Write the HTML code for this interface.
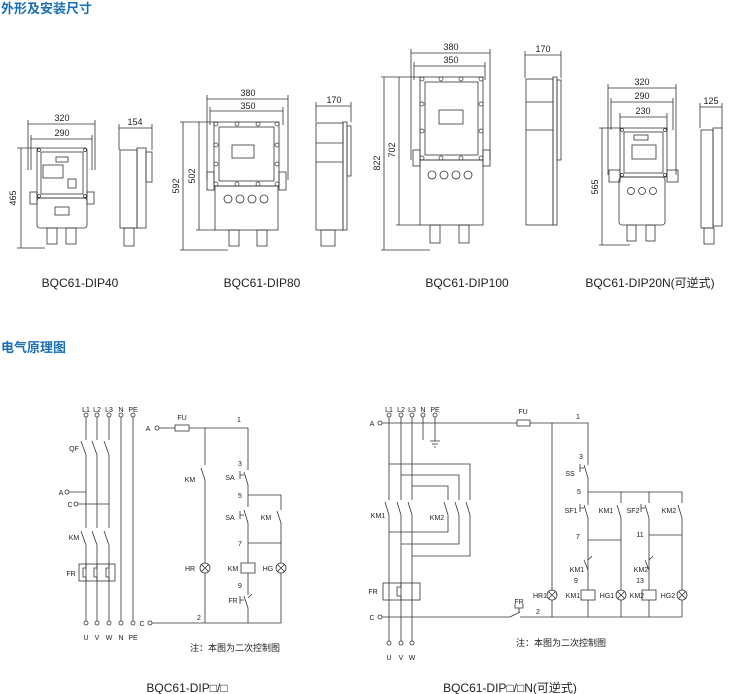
<!DOCTYPE html>
<html><head><meta charset="utf-8"><style>
body{margin:0;background:#fff;width:730px;height:694px;overflow:hidden}
svg{display:block}
text{font-family:"Liberation Sans","Noto Sans CJK SC",sans-serif;fill:#222}
.h{font-size:13px;font-weight:bold;fill:#1a6fb5}
.s{font-size:7px}
.d{font-size:9px}
.lb{font-size:12px}
</style></head><body>
<svg width="730" height="694" viewBox="0 0 730 694" xmlns="http://www.w3.org/2000/svg">
<text x="1" y="13" class="h">外形及安装尺寸</text>
<text x="1" y="352" class="h">电气原理图</text>
<g stroke="#333" stroke-width="0.8" fill="none">
<!-- DIP40 -->
<line x1="28" y1="124" x2="95" y2="124"/><line x1="31" y1="139" x2="92" y2="139"/>
<line x1="28" y1="120" x2="28" y2="170"/><line x1="95" y1="120" x2="95" y2="170"/>
<line x1="31" y1="135" x2="31" y2="170"/><line x1="92" y1="135" x2="92" y2="170"/>
<line x1="21" y1="148" x2="21" y2="248"/><line x1="17" y1="148" x2="38" y2="148"/><line x1="17" y1="248" x2="45" y2="248"/>
<rect x="37" y="148" width="50" height="50" rx="2"/><rect x="41" y="152" width="42" height="42"/>
<rect x="37" y="198" width="50" height="30" rx="3"/><rect x="55" y="207" width="14" height="8"/>
<rect x="30" y="192" width="7" height="12"/><rect x="87" y="192" width="7" height="12"/>
<rect x="56" y="157" width="12" height="5"/><rect x="43" y="165" width="20" height="13"/><rect x="68" y="179" width="8" height="9"/>
<rect x="47" y="228" width="10" height="16"/><rect x="66" y="228" width="10" height="16"/>
<line x1="119" y1="128" x2="152" y2="128"/><line x1="119" y1="124" x2="119" y2="150"/><line x1="152" y1="124" x2="152" y2="150"/>
<rect x="120" y="150" width="17" height="78"/><rect x="137" y="148" width="9" height="80"/><rect x="146" y="152" width="6" height="30"/>
<rect x="124" y="228" width="10" height="18"/>
<!-- DIP80 -->
<line x1="207" y1="99" x2="288" y2="99"/><line x1="210" y1="111" x2="283" y2="111"/>
<line x1="207" y1="95" x2="207" y2="180"/><line x1="288" y1="95" x2="288" y2="180"/>
<line x1="210" y1="107" x2="210" y2="125"/><line x1="283" y1="107" x2="283" y2="125"/>
<line x1="183" y1="122" x2="183" y2="250"/><line x1="199" y1="122" x2="199" y2="230"/>
<line x1="180" y1="122" x2="214" y2="122"/><line x1="180" y1="250" x2="228" y2="250"/><line x1="196" y1="230" x2="215" y2="230"/>
<rect x="214" y="122" width="65" height="64"/><rect x="219" y="127" width="55" height="54"/>
<rect x="232" y="145" width="22" height="13"/>
<rect x="207" y="172" width="7" height="18"/><rect x="279" y="172" width="7" height="18"/>
<rect x="215" y="186" width="63" height="44"/>
<circle cx="228" cy="199" r="4"/><circle cx="240" cy="199" r="4"/><circle cx="252" cy="199" r="4"/><circle cx="264" cy="199" r="4"/>
<rect x="229" y="230" width="10" height="16"/><rect x="257" y="230" width="10" height="16"/>
<line x1="316" y1="106" x2="351" y2="106"/><line x1="316" y1="102" x2="316" y2="122"/><line x1="351" y1="102" x2="351" y2="122"/>
<rect x="316" y="123" width="27" height="107"/><line x1="316" y1="143" x2="343" y2="143"/><line x1="316" y1="162" x2="343" y2="162"/>
<rect x="343" y="122" width="4" height="108"/><rect x="347" y="126" width="4" height="50"/>
<rect x="321" y="230" width="14" height="16"/>
<!-- DIP100 -->
<line x1="411" y1="53" x2="490" y2="53"/><line x1="414" y1="66" x2="485" y2="66"/>
<line x1="411" y1="49" x2="411" y2="160"/><line x1="490" y1="49" x2="490" y2="160"/>
<line x1="414" y1="62" x2="414" y2="80"/><line x1="485" y1="62" x2="485" y2="80"/>
<line x1="384" y1="77" x2="384" y2="250"/><line x1="399" y1="77" x2="399" y2="225"/>
<line x1="381" y1="77" x2="420" y2="77"/><line x1="381" y1="250" x2="430" y2="250"/><line x1="396" y1="225" x2="420" y2="225"/>
<rect x="420" y="77" width="63" height="83"/><rect x="425" y="82" width="53" height="73"/>
<rect x="439" y="110" width="24" height="14"/>
<rect x="413" y="150" width="7" height="16"/><rect x="483" y="150" width="7" height="16"/>
<rect x="420" y="160" width="63" height="65"/>
<circle cx="432" cy="175" r="4"/><circle cx="444" cy="175" r="4"/><circle cx="456" cy="175" r="4"/><circle cx="468" cy="175" r="4"/>
<rect x="430" y="225" width="10" height="18"/><rect x="459" y="225" width="10" height="18"/>
<line x1="525" y1="55" x2="561" y2="55"/><line x1="525" y1="51" x2="525" y2="78"/><line x1="561" y1="51" x2="561" y2="78"/>
<rect x="526" y="79" width="27" height="146"/><line x1="526" y1="102" x2="553" y2="102"/><line x1="526" y1="130" x2="553" y2="130"/>
<rect x="553" y="77" width="4" height="148"/><rect x="557" y="80" width="4" height="80"/>
<!-- DIP20N -->
<line x1="608" y1="88" x2="676" y2="88"/><line x1="611" y1="102" x2="673" y2="102"/><line x1="620" y1="117" x2="667" y2="117"/>
<line x1="608" y1="84" x2="608" y2="175"/><line x1="676" y1="84" x2="676" y2="175"/>
<line x1="611" y1="98" x2="611" y2="130"/><line x1="673" y1="98" x2="673" y2="130"/>
<line x1="620" y1="113" x2="620" y2="130"/><line x1="667" y1="113" x2="667" y2="130"/>
<line x1="602" y1="128" x2="602" y2="245"/><line x1="599" y1="128" x2="620" y2="128"/><line x1="599" y1="245" x2="630" y2="245"/>
<rect x="620" y="128" width="47" height="49"/><rect x="624" y="132" width="39" height="41"/>
<rect x="634" y="135" width="14" height="5"/><rect x="632" y="145" width="24" height="14"/>
<rect x="609" y="170" width="11" height="12"/><rect x="667" y="170" width="11" height="12"/>
<rect x="619" y="177" width="46" height="48" rx="3"/>
<circle cx="631" cy="191" r="3.5"/><circle cx="642" cy="191" r="3.5"/><circle cx="653" cy="191" r="3.5"/>
<rect x="627" y="225" width="9" height="16"/><rect x="646" y="225" width="9" height="16"/>
<line x1="700" y1="107" x2="722" y2="107"/><line x1="700" y1="103" x2="700" y2="128"/><line x1="722" y1="103" x2="722" y2="128"/>
<rect x="701" y="130" width="12" height="98"/><rect x="713" y="128" width="9" height="98"/>
<rect x="704" y="228" width="10" height="16"/>
</g>
<g stroke="#333" stroke-width="0.7" fill="#fff">
<circle cx="216" cy="124" r="2"/><circle cx="237" cy="124" r="2"/><circle cx="258" cy="124" r="2"/><circle cx="277" cy="124" r="2"/>
<circle cx="216" cy="184" r="2"/><circle cx="237" cy="184" r="2"/><circle cx="258" cy="184" r="2"/><circle cx="277" cy="184" r="2"/>
<circle cx="216" cy="145" r="2"/><circle cx="277" cy="145" r="2"/><circle cx="216" cy="164" r="2"/><circle cx="277" cy="164" r="2"/>
<circle cx="422" cy="79" r="2"/><circle cx="441" cy="79" r="2"/><circle cx="461" cy="79" r="2"/><circle cx="481" cy="79" r="2"/>
<circle cx="422" cy="158" r="2"/><circle cx="441" cy="158" r="2"/><circle cx="461" cy="158" r="2"/><circle cx="481" cy="158" r="2"/>
<circle cx="422" cy="104" r="2"/><circle cx="481" cy="104" r="2"/><circle cx="422" cy="131" r="2"/><circle cx="481" cy="131" r="2"/>
<circle cx="39" cy="150" r="1.5"/><circle cx="85" cy="150" r="1.5"/><circle cx="39" cy="196" r="1.5"/><circle cx="85" cy="196" r="1.5"/>
<circle cx="622" cy="130" r="1.5"/><circle cx="665" cy="130" r="1.5"/><circle cx="622" cy="175" r="1.5"/><circle cx="665" cy="175" r="1.5"/>
</g>
<g class="d" text-anchor="middle">
<text x="62" y="121">320</text><text x="62" y="136">290</text><text x="135" y="125">154</text>
<text x="248" y="96">380</text><text x="248" y="109">350</text><text x="334" y="103">170</text>
<text x="451" y="50">380</text><text x="451" y="63">350</text><text x="543" y="52">170</text>
<text x="642" y="85">320</text><text x="642" y="99">290</text><text x="643" y="114">230</text><text x="711" y="104">125</text>
<text transform="translate(16,198) rotate(-90)">465</text>
<text transform="translate(179,186) rotate(-90)">592</text><text transform="translate(195,176) rotate(-90)">502</text>
<text transform="translate(380,163) rotate(-90)">822</text><text transform="translate(395,150) rotate(-90)">702</text>
<text transform="translate(598,187) rotate(-90)">565</text>
</g>
<g class="lb" text-anchor="middle">
<text x="80" y="287">BQC61-DIP40</text><text x="262" y="287">BQC61-DIP80</text>
<text x="467" y="287">BQC61-DIP100</text><text x="650" y="287">BQC61-DIP20N(可逆式)</text>
<text x="187" y="692">BQC61-DIP□/□</text><text x="510" y="692">BQC61-DIP□/□N(可逆式)</text>
</g>
<!-- Schematic 1 -->
<g stroke="#333" stroke-width="0.8" fill="none">
<circle cx="86" cy="415" r="2"/><circle cx="97" cy="415" r="2"/><circle cx="109" cy="415" r="2"/><circle cx="121" cy="415" r="2"/><circle cx="133" cy="415" r="2"/>
<circle cx="86" cy="623" r="2"/><circle cx="97" cy="623" r="2"/><circle cx="109" cy="623" r="2"/><circle cx="121" cy="623" r="2"/><circle cx="133" cy="623" r="2"/>
<path d="M86 417V440M86 455V528M86 545V621"/><path d="M97 417V440M97 455V528M97 545V621"/><path d="M109 417V440M109 455V528M109 545V621"/>
<path d="M121 417V621M133 417V621"/>
<path d="M86 455L81 441M97 455L92 441M109 455L104 441"/>
<path d="M86 545L81 531M97 545L92 531M109 545L104 531"/>
<circle cx="67" cy="492" r="2"/><path d="M69 492H86"/><circle cx="76" cy="504" r="2"/><path d="M78 504H109"/>
<rect x="79" y="564" width="36" height="17"/>
<path d="M86 564V568H83V577H86V581M97 564V568H94V577H97V581M109 564V568H106V577H109V581"/>
<circle cx="157" cy="428" r="2"/><path d="M159 428H175"/><rect x="175" y="425" width="14" height="6"/><path d="M189 428H248V470"/>
<path d="M205 428V465M205 480V563M205 573V623M205 480L201 468"/>
<circle cx="205" cy="568" r="5"/><path d="M201.5 564.5L208.5 571.5M208.5 564.5L201.5 571.5"/>
<path d="M248 485V507M248 485L244 472M240 475H244M240 471V479"/>
<path d="M248 495H281V510M281 523V543M281 523L277 511"/>
<path d="M248 523V563M248 523L244 510M240 515H244M240 511V519"/>
<path d="M248 543H281V563M281 573V623"/><circle cx="281" cy="568" r="5"/><path d="M277.5 564.5L284.5 571.5M284.5 564.5L277.5 571.5"/>
<rect x="241" y="563" width="14" height="10"/><path d="M248 573V595M248 608V623M248 598L252 594M248 608L244 596M240 600H244M240 596V604"/>
<circle cx="150" cy="623" r="2"/><path d="M152 623H281"/>
</g>
<g class="s" text-anchor="middle">
<text x="86" y="412">L1</text><text x="97" y="412">L2</text><text x="109" y="412">L3</text><text x="121" y="412">N</text><text x="133" y="412">PE</text>
<text x="86" y="640">U</text><text x="97" y="640">V</text><text x="109" y="640">W</text><text x="121" y="640">N</text><text x="133" y="640">PE</text>
<text x="74" y="451">QF</text><text x="61" y="495">A</text><text x="70" y="507">C</text><text x="74" y="540">KM</text><text x="71" y="576">FR</text>
<text x="148" y="431">A</text><text x="142" y="626">C</text><text x="182" y="420">FU</text><text x="239" y="422">1</text>
<text x="240" y="466">3</text><text x="230" y="480">SA</text><text x="190" y="482">KM</text><text x="240" y="498">5</text>
<text x="230" y="520">SA</text><text x="266" y="520">KM</text><text x="240" y="546">7</text>
<text x="190" y="571">HR</text><text x="233" y="571">KM</text><text x="268" y="571">HG</text><text x="240" y="588">9</text><text x="233" y="603">FR</text>
<text x="199" y="620">2</text>
</g>
<text x="190" y="651" style="font-size:9px">注：本图为二次控制图</text>
<!-- Schematic 2 -->
<g stroke="#333" stroke-width="0.8" fill="none">
<circle cx="389" cy="415" r="2"/><circle cx="401" cy="415" r="2"/><circle cx="412" cy="415" r="2"/><circle cx="423" cy="415" r="2"/><circle cx="435" cy="415" r="2"/>
<path d="M423 417V440M435 417V441M430 441H440M432 444H438M434 447H436"/>
<circle cx="389" cy="643" r="2"/><circle cx="401" cy="643" r="2"/><circle cx="412" cy="643" r="2"/>
<path d="M389 417V500M389 515V641M389 515L385 502"/>
<path d="M401 417V500M401 515V641M401 515L397 502"/>
<path d="M412 417V500M412 515V641M412 515L408 502"/>
<path d="M389 464H470V500M470 515V556H412M470 515L466 502"/>
<path d="M401 475H459V500M459 515V544H401M459 515L455 502"/>
<path d="M412 486H448V500M448 515V532H389M448 515L444 502"/>
<rect x="383" y="583" width="37" height="17"/><path d="M401 583V587H397V596H401V600"/>
<circle cx="380" cy="423" r="2"/><path d="M382 423H517"/><rect x="517" y="420" width="13" height="6"/><path d="M530 423H588V465"/>
<path d="M552 423V590M552 600V617"/><circle cx="552" cy="595" r="5"/><path d="M548.5 591.5L555.5 598.5M555.5 591.5L548.5 598.5"/>
<path d="M588 478V505M588 478L584 465M580 468H584M580 464V472"/>
<path d="M588 492H682V503M621 492V503M649 492V503"/>
<path d="M588 518V590M588 518L584 505M580 508H584M580 504V512"/>
<path d="M621 518V590M621 518L617 505M621 600V617"/><circle cx="621" cy="595" r="5"/><path d="M617.5 591.5L624.5 598.5M624.5 591.5L617.5 598.5"/>
<path d="M649 518V590M649 518L645 505M641 508H645M641 504V512"/>
<path d="M682 518V590M682 518L678 505M682 600V617"/><circle cx="682" cy="595" r="5"/><path d="M678.5 591.5L685.5 598.5M685.5 591.5L678.5 598.5"/>
<path d="M588 540H621M649 535H682"/>
<path d="M588 560L592 556M588 570L584 560"/><path d="M649 560L653 556M649 570L645 560"/>
<rect x="581" y="590" width="14" height="10"/><rect x="642" y="590" width="14" height="10"/>
<path d="M588 600V617M649 600V617"/>
<circle cx="380" cy="617" r="2"/><path d="M382 617H510L520 612M520 617H682M515 604V608H523V604M519 608V613"/>
</g>
<g class="s" text-anchor="middle">
<text x="389" y="412">L1</text><text x="401" y="412">L2</text><text x="412" y="412">L3</text><text x="423" y="412">N</text><text x="435" y="412">PE</text>
<text x="389" y="660">U</text><text x="401" y="660">V</text><text x="412" y="660">W</text>
<text x="378" y="518">KM1</text><text x="437" y="520">KM2</text><text x="373" y="594">FR</text>
<text x="372" y="426">A</text><text x="372" y="620">C</text><text x="523" y="414">FU</text><text x="578" y="419">1</text>
<text x="581" y="459">3</text><text x="570" y="476">SS</text><text x="579" y="494">5</text>
<text x="571" y="513">SF1</text><text x="606" y="513">KM1</text><text x="633" y="513">SF2</text><text x="669" y="513">KM2</text>
<text x="578" y="539">7</text><text x="640" y="537">11</text>
<text x="577" y="572">KM1</text><text x="576" y="583">9</text><text x="641" y="572">KM2</text><text x="640" y="583">13</text>
<text x="540" y="598">HR1</text><text x="573" y="598">KM1</text><text x="607" y="598">HG1</text><text x="637" y="598">KM2</text><text x="668" y="598">HG2</text>
<text x="519" y="604">FR</text><text x="538" y="614">2</text>
</g>
<text x="516" y="646" style="font-size:9px">注：本图为二次控制图</text>
</svg>
</body></html>
